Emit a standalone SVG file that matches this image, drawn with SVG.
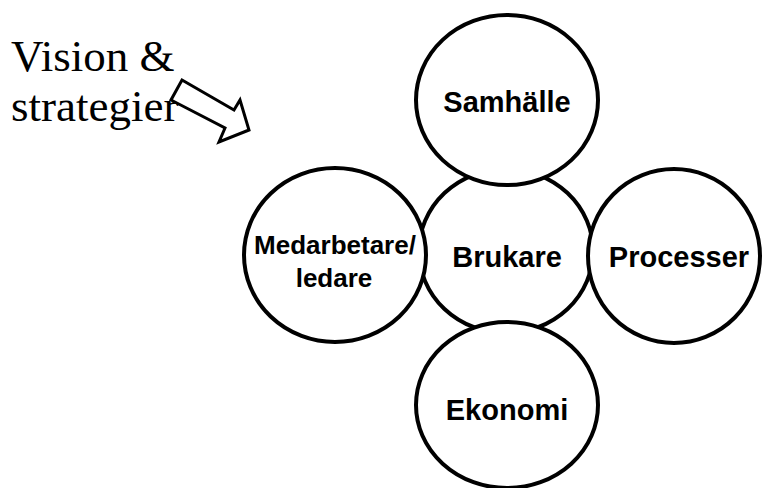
<svg xmlns="http://www.w3.org/2000/svg" width="762" height="488" viewBox="0 0 762 488">
<style>
.c{fill:#fff;stroke:#000;stroke-width:4}
.t{font-family:"Liberation Sans",Arial,sans-serif;font-weight:bold;font-size:29px;text-anchor:middle;fill:#000}
.s{font-family:"Liberation Serif","Times New Roman",serif;font-size:45px;fill:#000}
</style>
<rect width="762" height="488" fill="#fff"/>
<g id="vision">
<text class="s" x="11" y="71">Vision &amp;</text>
<text class="s" x="11" y="121">strategier</text>
</g>
<g id="connectors">
<path d="M182,80 L234,110 L240,100 L249,130 L219,142 L225,128 L171,100 Z" fill="#fff" stroke="#000" stroke-width="3" stroke-linejoin="miter"/>
</g>
<g id="brukare">
<ellipse class="c" cx="506" cy="251" rx="87" ry="82"/>
<text class="t" x="507" y="267">Brukare</text>
</g>
<g id="samhalle">
<ellipse class="c" cx="507" cy="100" rx="91" ry="85"/>
<text class="t" x="507" y="112">Samhälle</text>
</g>
<g id="medarbetare">
<ellipse class="c" cx="335" cy="255" rx="91" ry="87"/>
<text class="t" x="335" y="254" style="font-size:26px">Medarbetare/</text>
<text class="t" x="334" y="287" style="font-size:26px">ledare</text>
</g>
<g id="processer">
<ellipse class="c" cx="674" cy="256" rx="86" ry="87"/>
<text class="t" x="679" y="267">Processer</text>
</g>
<g id="ekonomi">
<ellipse class="c" cx="507" cy="405" rx="91" ry="83"/>
<text class="t" x="507" y="420">Ekonomi</text>
</g>
</svg>
